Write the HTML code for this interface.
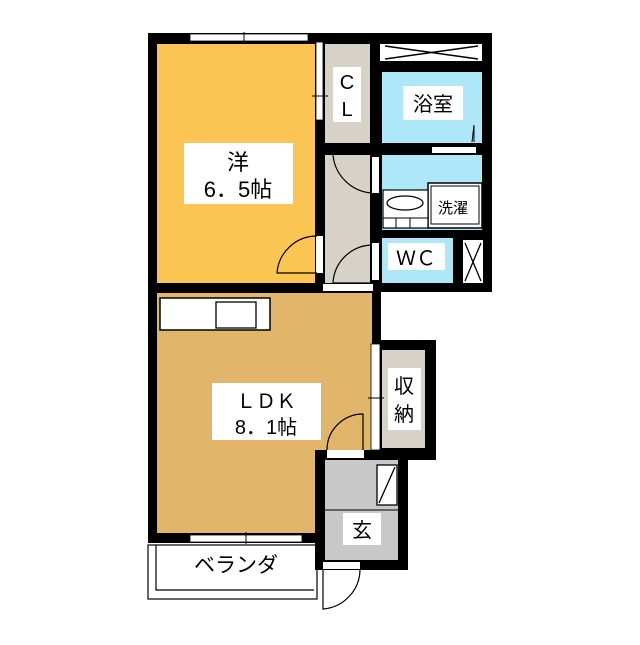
<!DOCTYPE html>
<html><head><meta charset="utf-8"><style>
body{margin:0;background:#fff}
svg text{font-family:"Liberation Sans","Noto Sans CJK JP",sans-serif;fill:#000}
</style></head><body>
<svg width="640" height="640" viewBox="0 0 640 640" xmlns="http://www.w3.org/2000/svg">
<!-- top block black -->
<rect x="148" y="33" width="344" height="259" fill="#000"/>
<rect x="148" y="283" width="233" height="260" fill="#000"/>
<!-- rooms -->
<rect x="157" y="44" width="158" height="239" fill="#fac552"/>
<rect x="325" y="44" width="45" height="99" fill="#d6d2c8"/>
<rect x="380" y="44" width="102" height="17" fill="#fff"/>
<path d="M385 46 L478 59 M385 59 L478 46" stroke="#000" stroke-width="1.5"/>
<rect x="382" y="72" width="100" height="71" fill="#aee8f8"/>
<rect x="325" y="155" width="45" height="128" fill="#d6d2c8"/>
<rect x="382" y="155" width="100" height="75" fill="#aee8f8"/>
<rect x="382" y="238" width="71" height="45" fill="#aee8f8"/>
<rect x="463" y="240" width="20" height="43" fill="#fff"/>
<path d="M465 243 L481 281 M481 243 L465 281" stroke="#000" stroke-width="1.3"/>
<!-- washer & sink -->
<rect x="428" y="183" width="54" height="45" fill="#fff" stroke="#000" stroke-width="1.5"/>
<rect x="431" y="186" width="48" height="38" fill="#fff" stroke="#000" stroke-width="1"/>
<rect x="383" y="190" width="45" height="38" fill="#fff" stroke="#000" stroke-width="1.2"/>
<ellipse cx="405" cy="203" rx="18" ry="7" fill="#fff" stroke="#000" stroke-width="1.3"/>
<path d="M383 218 H428 M396 218 V228 M410 218 V228" stroke="#000" stroke-width="1"/>
<!-- windows/doors white gaps -->
<rect x="190" y="34" width="118" height="7" fill="#fff" stroke="#000" stroke-width="0.8"/>
<line x1="244" y1="32" x2="244" y2="43" stroke="#000"/>
<rect x="316" y="42" width="7" height="78" fill="#fff" stroke="#000" stroke-width="0.8"/>
<line x1="312" y1="96" x2="328" y2="96" stroke="#000"/>
<rect x="432" y="147" width="44" height="6" fill="#fff"/>
<path d="M474 142 L474 125 L472 142" stroke="#000" fill="none"/>
<rect x="372" y="157" width="7" height="36" fill="#fff"/>
<path d="M372 193 A42 42 0 0 1 333 155" stroke="#000" fill="none" stroke-width="1.2"/>
<rect x="316" y="236" width="7" height="37" fill="#fff"/>
<path d="M317 236 A40 40 0 0 0 277 273 H317" stroke="#000" fill="none" stroke-width="1.2"/>
<rect x="372" y="243" width="7" height="37" fill="#fff"/>
<path d="M372 245 A40 40 0 0 0 333 283 H372" stroke="#000" fill="none" stroke-width="1.2"/>
<rect x="323" y="284" width="50" height="7" fill="#fff"/>
<!-- LDK -->
<rect x="157" y="293" width="215" height="240" fill="#e2b66a"/>
<rect x="160" y="298" width="110" height="32" fill="#fff" stroke="#000" stroke-width="1.5"/>
<rect x="216" y="302" width="40" height="26" fill="#fff" stroke="#000" stroke-width="1.3"/>
<!-- storage -->
<rect x="380" y="340" width="56" height="120" fill="#000"/>
<rect x="382" y="350" width="43" height="98" fill="#d6d2c8"/>
<rect x="371" y="344" width="9" height="106" fill="#fff" stroke="#000" stroke-width="0.8"/>
<line x1="368" y1="398" x2="384" y2="398" stroke="#000"/>
<!-- genkan -->
<rect x="315" y="450" width="93" height="120" fill="#000"/>
<rect x="325" y="460" width="73" height="100" fill="#c8c8c8"/>
<line x1="325" y1="510" x2="398" y2="510" stroke="#000" stroke-width="1"/>
<rect x="377" y="465" width="20" height="40" fill="#fff" stroke="#000" stroke-width="1.3"/>
<line x1="379" y1="503" x2="395" y2="467" stroke="#000" stroke-width="1.3"/>
<rect x="327" y="450" width="37" height="8" fill="#fff"/>
<path d="M327 450 A36 36 0 0 1 363 414 V450" stroke="#000" fill="none" stroke-width="1.2"/>
<rect x="323" y="562" width="37" height="7" fill="#fff"/>
<path d="M323 569 V609 A40 40 0 0 0 360 569" stroke="#000" fill="none" stroke-width="1.2"/>
<!-- balcony -->
<rect x="190" y="535" width="112" height="7" fill="#fff" stroke="#000" stroke-width="0.8"/>
<line x1="246" y1="532" x2="246" y2="544" stroke="#000"/>
<rect x="148" y="545" width="169" height="54" fill="none" stroke="#000" stroke-width="1.2"/>
<polyline points="156,545 156,590 314,590" fill="none" stroke="#000" stroke-width="1.2"/>
<!-- labels -->
<rect x="184" y="143" width="109" height="61" fill="#fff"/>
<text x="238" y="170" font-size="22" text-anchor="middle">洋</text>
<text x="238" y="197" font-size="22" text-anchor="middle">6．5帖</text>
<rect x="333" y="67" width="28" height="55" fill="#fff"/>
<text x="347" y="89" font-size="20" text-anchor="middle">C</text>
<text x="347" y="116" font-size="20" text-anchor="middle">L</text>
<rect x="403" y="86" width="60" height="34" fill="#fff"/>
<text x="433" y="111" font-size="20" text-anchor="middle">浴室</text>
<text x="453" y="213" font-size="15" text-anchor="middle">洗濯</text>
<rect x="388" y="243" width="57" height="27" fill="#fff"/>
<text x="416" y="265" font-size="20" text-anchor="middle">ＷＣ</text>
<rect x="212" y="383" width="109" height="57" fill="#fff"/>
<text x="266" y="408" font-size="20" text-anchor="middle">ＬＤＫ</text>
<text x="266" y="434" font-size="20" text-anchor="middle">8．1帖</text>
<rect x="388" y="368" width="33" height="62" fill="#fff"/>
<text x="404" y="393" font-size="20" text-anchor="middle">収</text>
<text x="404" y="421" font-size="20" text-anchor="middle">納</text>
<rect x="343" y="513" width="38" height="32" fill="#fff"/>
<text x="362" y="537" font-size="20" text-anchor="middle">玄</text>
<text x="236" y="572" font-size="21" text-anchor="middle">ベランダ</text>
</svg>
</body></html>
